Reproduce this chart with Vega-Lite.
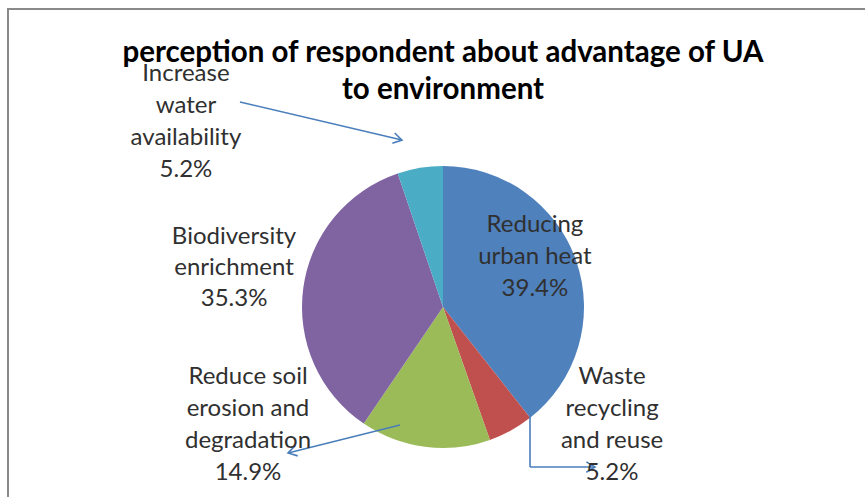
{
  "$schema": "https://vega.github.io/schema/vega-lite/v6.json",
  "width": 870,
  "height": 596,
  "autosize": {"type": "none"},
  "padding": {"left": 8, "top": 9, "right": 0, "bottom": 0},
  "background": "white",
  "config": {
    "view": {"stroke": "#8a8a8a", "strokeWidth": 2},
    "font": "Lato"
  },
  "title": {
    "text": ["perception of respondent about advantage of UA", "to environment"],
    "font": "Lato",
    "fontSize": 29.5,
    "fontWeight": "bold",
    "color": "#000000",
    "lineHeight": 36.5,
    "anchor": "middle",
    "frame": "group",
    "dy": 100
  },
  "data": {
    "values": [
      {"category": "Reducing urban heat", "label": "Reducing\nurban heat", "share": 39.4, "rank": 1},
      {"category": "Waste recycling and reuse", "label": "Waste\nrecycling\nand reuse", "share": 5.2, "rank": 2},
      {"category": "Reduce soil erosion and degradation", "label": "Reduce soil\nerosion and\ndegradation", "share": 14.9, "rank": 3},
      {"category": "Biodiversity enrichment", "label": "Biodiversity\nenrichment", "share": 35.3, "rank": 4},
      {"category": "Increase water availability", "label": "Increase\nwater\navailability", "share": 5.2, "rank": 5}
    ]
  },
  "transform": [
    {"calculate": "datum.label + '\\n' + format(datum.share, '.1f') + '%'", "as": "tag"}
  ],
  "layer": [
    {
      "mark": {"type": "arc", "outerRadius": 141},
      "encoding": {
        "theta": {"field": "share", "type": "quantitative", "stack": true},
        "order": {"field": "rank", "type": "quantitative"},
        "color": {
          "field": "category",
          "type": "nominal",
          "legend": null,
          "scale": {
            "domain": ["Reducing urban heat", "Waste recycling and reuse", "Reduce soil erosion and degradation", "Biodiversity enrichment", "Increase water availability"],
            "range": ["#4F81BD", "#C0504D", "#9BBB59", "#8064A2", "#4BACC6"]
          }
        }
      }
    },
    {
      "data": {"values": [{"leader": "water"}]},
      "mark": {"type": "rule", "color": "#4A7EBB", "strokeWidth": 1.6},
      "encoding": {
        "x": {"datum": -144.0, "type": "quantitative", "scale": {"domain": [-308.51, 308.51], "nice": false, "zero": false}, "axis": null},
        "y": {"datum": 145.4, "type": "quantitative", "scale": {"domain": [-211.35, 211.35], "nice": false, "zero": false}, "axis": null},
        "x2": {"datum": -29.1},
        "y2": {"datum": 118.4}
      }
    },
    {
      "data": {"values": [{"leader": "soil"}]},
      "mark": {"type": "rule", "color": "#4A7EBB", "strokeWidth": 1.6},
      "encoding": {
        "x": {"datum": -30.5, "type": "quantitative", "scale": {"domain": [-308.51, 308.51], "nice": false, "zero": false}, "axis": null},
        "y": {"datum": -83.7, "type": "quantitative", "scale": {"domain": [-211.35, 211.35], "nice": false, "zero": false}, "axis": null},
        "x2": {"datum": -109.9},
        "y2": {"datum": -103.5}
      }
    },
    {
      "data": {"values": [{"leader": "waste"}]},
      "mark": {"type": "rule", "color": "#4A7EBB", "strokeWidth": 1.6},
      "encoding": {
        "x": {"datum": 61.7, "type": "quantitative", "scale": {"domain": [-308.51, 308.51], "nice": false, "zero": false}, "axis": null},
        "y": {"datum": -76.6, "type": "quantitative", "scale": {"domain": [-211.35, 211.35], "nice": false, "zero": false}, "axis": null},
        "y2": {"datum": -113.5}
      }
    },
    {
      "data": {"values": [{"leader": "waste"}]},
      "mark": {"type": "rule", "color": "#4A7EBB", "strokeWidth": 1.6},
      "encoding": {
        "x": {"datum": 61.7, "type": "quantitative", "scale": {"domain": [-308.51, 308.51], "nice": false, "zero": false}, "axis": null},
        "y": {"datum": -113.5, "type": "quantitative", "scale": {"domain": [-211.35, 211.35], "nice": false, "zero": false}, "axis": null},
        "x2": {"datum": 107.8}
      }
    },
    {
      "data": {"values": [{"leader": "water"}]},
      "mark": {"type": "point", "shape": "M-1,-0.6L0,0L-1,0.6", "filled": false, "color": "#4A7EBB", "strokeWidth": 1.6, "size": 300, "angle": 13, "opacity": 1},
      "encoding": {
        "x": {"datum": -29.1, "type": "quantitative", "scale": {"domain": [-308.51, 308.51], "nice": false, "zero": false}, "axis": null},
        "y": {"datum": 118.4, "type": "quantitative", "scale": {"domain": [-211.35, 211.35], "nice": false, "zero": false}, "axis": null}
      }
    },
    {
      "data": {"values": [{"leader": "soil"}]},
      "mark": {"type": "point", "shape": "M-1,-0.6L0,0L-1,0.6", "filled": false, "color": "#4A7EBB", "strokeWidth": 1.6, "size": 300, "angle": 166, "opacity": 1},
      "encoding": {
        "x": {"datum": -109.9, "type": "quantitative", "scale": {"domain": [-308.51, 308.51], "nice": false, "zero": false}, "axis": null},
        "y": {"datum": -103.5, "type": "quantitative", "scale": {"domain": [-211.35, 211.35], "nice": false, "zero": false}, "axis": null}
      }
    },
    {
      "data": {"values": [{"leader": "waste"}]},
      "mark": {"type": "point", "shape": "M-1,-0.6L0,0L-1,0.6", "filled": false, "color": "#4A7EBB", "strokeWidth": 1.6, "size": 300, "angle": 0, "opacity": 1},
      "encoding": {
        "x": {"datum": 107.8, "type": "quantitative", "scale": {"domain": [-308.51, 308.51], "nice": false, "zero": false}, "axis": null},
        "y": {"datum": -113.5, "type": "quantitative", "scale": {"domain": [-211.35, 211.35], "nice": false, "zero": false}, "axis": null}
      }
    },
    {
      "transform": [{"filter": "datum.category === 'Reducing urban heat'"}],
      "mark": {"type": "text", "font": "Lato", "fontSize": 24, "lineHeight": 32, "lineBreak": "\n", "align": "center", "baseline": "middle", "color": "#303030"},
      "encoding": {
        "x": {"datum": 65.2, "type": "quantitative", "scale": {"domain": [-308.51, 308.51], "nice": false, "zero": false}, "axis": null},
        "y": {"datum": 58.5, "type": "quantitative", "scale": {"domain": [-211.35, 211.35], "nice": false, "zero": false}, "axis": null},
        "text": {"field": "tag", "type": "nominal"}
      }
    },
    {
      "transform": [{"filter": "datum.category === 'Waste recycling and reuse'"}],
      "mark": {"type": "text", "font": "Lato", "fontSize": 24, "lineHeight": 32, "lineBreak": "\n", "align": "center", "baseline": "middle", "color": "#303030"},
      "encoding": {
        "x": {"datum": 119.9, "type": "quantitative", "scale": {"domain": [-308.51, 308.51], "nice": false, "zero": false}, "axis": null},
        "y": {"datum": -49.3, "type": "quantitative", "scale": {"domain": [-211.35, 211.35], "nice": false, "zero": false}, "axis": null},
        "text": {"field": "tag", "type": "nominal"}
      }
    },
    {
      "transform": [{"filter": "datum.category === 'Reduce soil erosion and degradation'"}],
      "mark": {"type": "text", "font": "Lato", "fontSize": 24, "lineHeight": 32, "lineBreak": "\n", "align": "center", "baseline": "middle", "color": "#303030"},
      "encoding": {
        "x": {"datum": -138.3, "type": "quantitative", "scale": {"domain": [-308.51, 308.51], "nice": false, "zero": false}, "axis": null},
        "y": {"datum": -49.3, "type": "quantitative", "scale": {"domain": [-211.35, 211.35], "nice": false, "zero": false}, "axis": null},
        "text": {"field": "tag", "type": "nominal"}
      }
    },
    {
      "transform": [{"filter": "datum.category === 'Biodiversity enrichment'"}],
      "mark": {"type": "text", "font": "Lato", "fontSize": 24, "lineHeight": 31, "lineBreak": "\n", "align": "center", "baseline": "middle", "color": "#303030"},
      "encoding": {
        "x": {"datum": -148.2, "type": "quantitative", "scale": {"domain": [-308.51, 308.51], "nice": false, "zero": false}, "axis": null},
        "y": {"datum": 50.0, "type": "quantitative", "scale": {"domain": [-211.35, 211.35], "nice": false, "zero": false}, "axis": null},
        "text": {"field": "tag", "type": "nominal"}
      }
    },
    {
      "transform": [{"filter": "datum.category === 'Increase water availability'"}],
      "mark": {"type": "text", "font": "Lato", "fontSize": 24, "lineHeight": 32, "lineBreak": "\n", "align": "center", "baseline": "middle", "color": "#303030"},
      "encoding": {
        "x": {"datum": -182.3, "type": "quantitative", "scale": {"domain": [-308.51, 308.51], "nice": false, "zero": false}, "axis": null},
        "y": {"datum": 165.6, "type": "quantitative", "scale": {"domain": [-211.35, 211.35], "nice": false, "zero": false}, "axis": null},
        "text": {"field": "tag", "type": "nominal"}
      }
    }
  ]
}
